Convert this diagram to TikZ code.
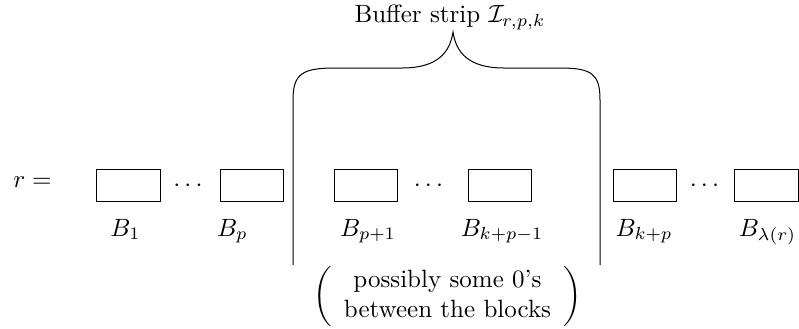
\documentclass[tikz,border=0pt]{standalone}
\usepackage{amsmath}
\usetikzlibrary{calc}
\tikzset{block/.style={draw, minimum width=25.4pt, minimum height=12.7pt, inner sep=0pt}}

\begin{document}
\begin{tikzpicture}[x=0.4pt, y=-0.4pt]
	\useasboundingbox (0,0) rectangle (799,328);

	% r = ...
	\node[anchor=base] (req) at (32.5, 187.5) {$r =$};

	% blocks with their names below
	\foreach \name/\x/\lx/\lab in {
		b1/128.5/125.5/1, bp/252/232.5/p,
		bpa/366/368/{p+1}, bkp/500/502/{k+p-1},
		bkpa/645/644/{k+p}, blam/766.3/767.5/{\lambda(r)}
	}{
		\node[block] (\name) at (\x, 185.8) {};
		\node[anchor=base] (l\name) at (\lx, 236) {$B_{\lab}$};
	}

	% dots between the blocks
	\foreach \name/\x in {d1/190, d2/430.5, d3/706.5}{
		\node (\name) at (\x, 186) {$\cdots$};
	}

	% buffer strip
	\coordinate (tip) at (453, 32);
	\draw (293, 265) -- (293, 100)
		.. controls (293, 74) and (302, 68) .. (335, 68) -- (402, 68)
		.. controls (438, 68) and (450, 52) .. (tip)
		.. controls (456, 52) and (468, 68) .. (504, 68) -- (560, 68)
		.. controls (592, 68) and (600, 74) .. (600, 100) -- (600, 265);
	\node[anchor=base] (title) at (450, 22.5) {Buffer strip $\mathcal{I}_{r,p,k}$};

	% note below
	\node (zeros) at (447.5, 296) {$\left(\begin{array}{c}\text{possibly some 0's}\\ \text{between the blocks}\end{array}\right)$};
\end{tikzpicture}
\end{document}
